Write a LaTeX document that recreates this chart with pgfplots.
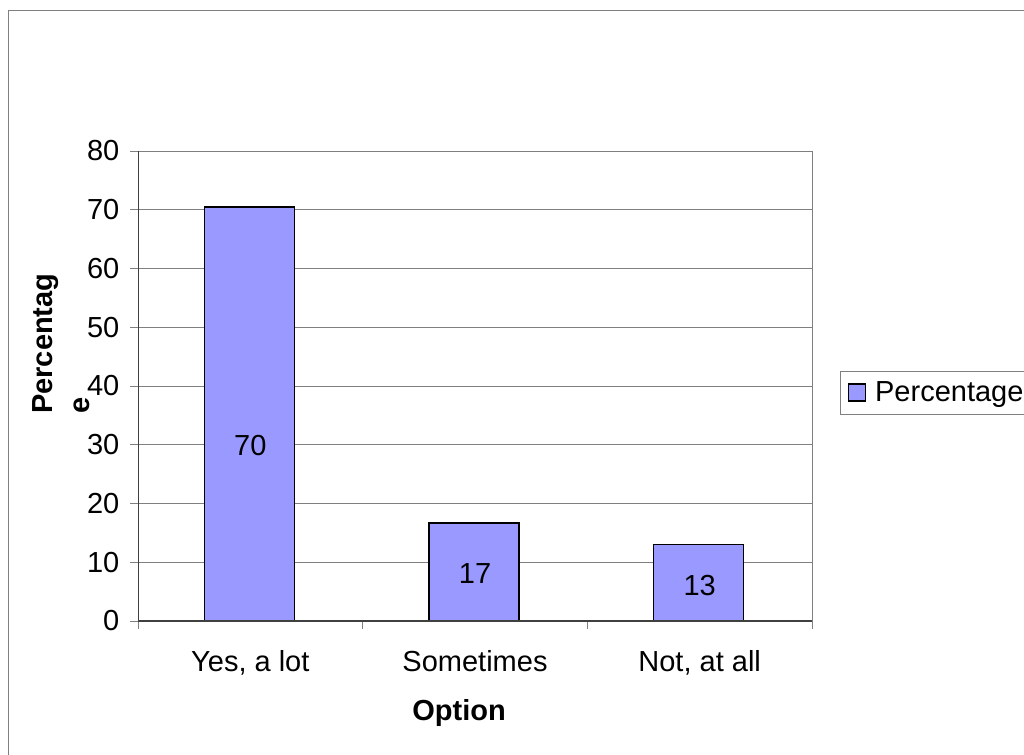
\documentclass[border=0pt]{standalone}
\usepackage{fontspec}
\setmainfont{Liberation Sans}
\usepackage{pgfplots}
\pgfplotsset{compat=1.18}
\definecolor{barfill}{HTML}{9999FF}
\definecolor{gridgray}{HTML}{808080}
\definecolor{axisdark}{HTML}{404040}
\begin{document}
\begin{tikzpicture}[font=\fontsize{21.75pt}{27.75pt}\selectfont]
\useasboundingbox (0,0) rectangle (768pt,-566.25pt);
\clip (0,0) rectangle (768pt,-566.25pt);
\draw[gridgray, line width=0.75pt] (6pt,-7.75pt) rectangle (800pt,-600pt);
\begin{axis}[
  at={(103.5pt,-465.75pt)}, anchor=south west,
  scale only axis, width=505.5pt, height=352.5pt,
  xmin=-0.5, xmax=2.5, ymin=0, ymax=80,
  ytick={0,10,...,80},
  xtick={-0.5,0.5,1.5,2.5}, xticklabels={},
  extra x ticks={0,1,2},
  extra x tick labels={{Yes, a lot},{Sometimes},{Not, at all}},
  extra x tick style={major tick length=0pt, grid=none},
  tick align=outside, tick pos=left,
  major tick length=6pt,
  tick style={gridgray, line width=0.75pt},
  ymajorgrids, major grid style={gridgray, line width=0.75pt},
  axis line style={gridgray, line width=0.75pt},
  /pgf/number format/assume math mode=true,
  tick label style={font=\fontsize{21.75pt}{26pt}\selectfont},
  yticklabel style={anchor=east, xshift=-4.5pt},
  xticklabel style={anchor=north, yshift=-18.75pt},
  xlabel={Option},
  xlabel style={font=\fontsize{21.75pt}{26pt}\selectfont\bfseries, at={(rel axis cs:0.4763,-0.2121)}, anchor=base},
  ylabel={Percentag\\e},
  ylabel style={font=\fontsize{21.75pt}{27.75pt}\selectfont\bfseries, align=left, inner sep=0pt, at={(rel axis cs:-0.1142,0.4404)}, anchor=west},
  legend style={at={(rel axis cs:1.0415,0.4857)}, anchor=west, draw=gridgray, line width=0.75pt, inner ysep=6pt, font=\fontsize{21.75pt}{26pt}\selectfont},
]
\addplot[ybar, bar width=67.5pt, bar shift=-0.75pt, fill=barfill, draw=black, line width=1.2pt,
  legend image code/.code={\path[draw=none, fill=none] (-3pt,0pt) -- (18pt,0pt);
    \draw[fill=barfill, draw=black, line width=1.2pt] (0pt,-6.375pt) rectangle (12.75pt,6.375pt);}]
  coordinates {(0,70.5) (1,16.7) (2,13.0)};
\addlegendentry{Percentage}
\addplot[draw=none, forget plot, nodes near coords, point meta=explicit symbolic,
  nodes near coords style={anchor=center, font=\fontsize{21.75pt}{26pt}\selectfont}]
  coordinates {(0,29.8) [70] (1,8.0) [17] (2,6.0) [13]};
\draw[axisdark, line width=0.9pt] (rel axis cs:0,1) -- (rel axis cs:0,0) -- (rel axis cs:1,0);
\end{axis}
\end{tikzpicture}
\end{document}
